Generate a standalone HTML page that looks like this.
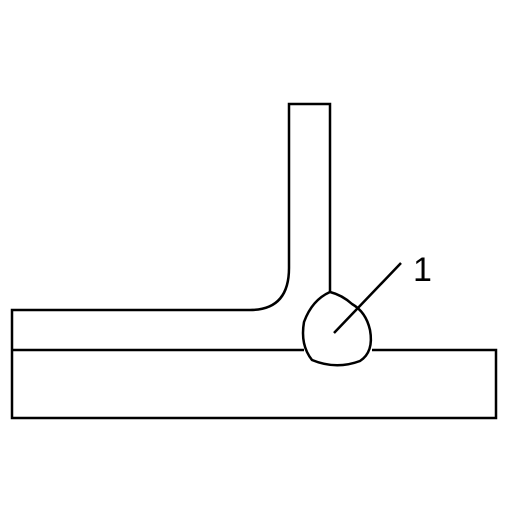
<!DOCTYPE html>
<html><head><meta charset="utf-8"><style>html,body{margin:0;padding:0;background:#fff}</style></head>
<body>
<svg width="512" height="512" viewBox="0 0 512 512">
<g fill="none" stroke="#000" stroke-width="2.5">
<path d="M289,268 L289,104 L330,104 L330,292"/>
<path d="M289,268 Q289,310 250,310 L12,310 L12,418 L496,418 L496,350 L372,350"/>
<path d="M12,350 L304,350"/>
<path d="M330,292 Q312,300 304,322 Q300,345 312,360 Q336,370 360,361 Q374,352 370,330 Q366,312 352,304 Q342,295 330,292 Z"/>
<path d="M334,333 L401,263"/>
</g>
<text x="413" y="281" font-family="Liberation Sans, sans-serif" font-size="34" fill="#000">1</text>
</svg>
</body></html>
